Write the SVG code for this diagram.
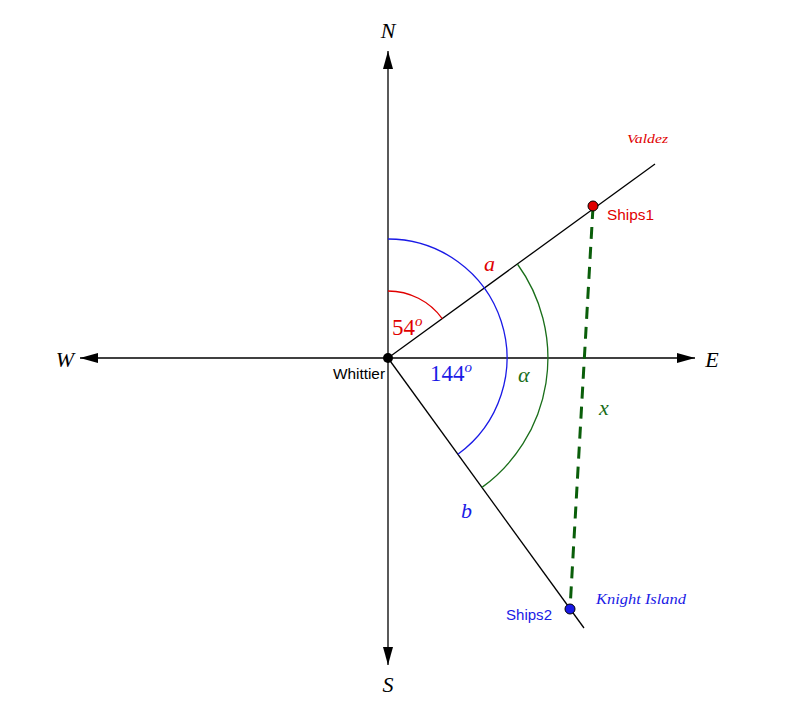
<svg xmlns="http://www.w3.org/2000/svg" width="800" height="707" viewBox="0 0 800 707">
<style>
.ax{stroke:#000;stroke-width:1.3;fill:none}
.m{font-family:"Liberation Serif","DejaVu Serif",serif;font-style:italic}
.n{font-family:"Liberation Serif","DejaVu Serif",serif}
.s{font-family:"Liberation Sans",Arial,sans-serif;font-size:14.5px}
</style>
<defs>
<marker id="ah" viewBox="0 0 18 10" refX="18" refY="5" markerWidth="18" markerHeight="10" markerUnits="userSpaceOnUse" orient="auto">
<path d="M0,0 L18,5 L0,10 Z" fill="#000"/>
</marker>
</defs>
<rect width="800" height="707" fill="#fff"/>
<g id="connectors">
<line class="ax" x1="388" y1="358" x2="388" y2="51" marker-end="url(#ah)"/>
<line class="ax" x1="388" y1="358" x2="388" y2="665" marker-end="url(#ah)"/>
<line class="ax" x1="388" y1="358" x2="80" y2="358" marker-end="url(#ah)"/>
<line class="ax" x1="388" y1="358" x2="695" y2="358" marker-end="url(#ah)"/>
<line class="ax" x1="388" y1="358" x2="655" y2="164"/>
<line class="ax" x1="388" y1="358" x2="584" y2="628"/>
<path d="M388,291 A67,67 0 0 1 442.2,318.6" fill="none" stroke="#e00000" stroke-width="1.3"/>
<path d="M388,239 A119,119 0 0 1 457.9,454.3" fill="none" stroke="#1a1ae6" stroke-width="1.3"/>
<path d="M517.4,264 A160,160 0 0 1 482,487.4" fill="none" stroke="#1a6e1a" stroke-width="1.3"/>
<line x1="593" y1="207" x2="570" y2="609" stroke="#0a5e0a" stroke-width="3" stroke-dasharray="12,8"/>
</g>
<g id="whittier">
<circle cx="388" cy="358" r="5" fill="#000"/>
<text class="s" x="333" y="379" textLength="52" lengthAdjust="spacingAndGlyphs">Whittier</text>
</g>
<g id="ships1">
<circle cx="593" cy="206" r="5" fill="#e00000" stroke="#000" stroke-width="1"/>
<text class="s" x="607" y="220" fill="#e00000" textLength="47" lengthAdjust="spacingAndGlyphs">Ships1</text>
<text class="m" x="627" y="143" font-size="13" fill="#e00000" textLength="41" lengthAdjust="spacingAndGlyphs">Valdez</text>
</g>
<g id="ships2">
<circle cx="570" cy="609" r="5" fill="#1a1ae6" stroke="#000" stroke-width="1"/>
<text class="s" x="506" y="620" fill="#1a1ae6" textLength="46" lengthAdjust="spacingAndGlyphs">Ships2</text>
<text class="m" x="596" y="604" font-size="14" fill="#1a1ae6" textLength="90" lengthAdjust="spacingAndGlyphs">Knight Island</text>
</g>
<g id="labels">
<text class="m" x="388" y="38" font-size="22" text-anchor="middle">N</text>
<text class="m" x="388" y="692" font-size="22" text-anchor="middle">S</text>
<text class="m" x="65" y="367" font-size="22" text-anchor="middle">W</text>
<text class="m" x="712" y="367" font-size="22" text-anchor="middle">E</text>
<text class="m" x="484" y="271" font-size="22" fill="#e00000">a</text>
<text class="n" x="392" y="335" font-size="23" fill="#e00000">54<tspan class="m" font-size="15" dy="-9">o</tspan></text>
<text class="n" x="430" y="381" font-size="23" fill="#1a1ae6">144<tspan class="m" font-size="15" dy="-9">o</tspan></text>
<text class="m" x="518" y="382" font-size="22" fill="#1a6e1a">α</text>
<text class="m" x="599" y="415" font-size="22" fill="#1a6e1a">x</text>
<text class="m" x="461" y="518" font-size="22" fill="#1a1ae6">b</text>
</g>
</svg>
